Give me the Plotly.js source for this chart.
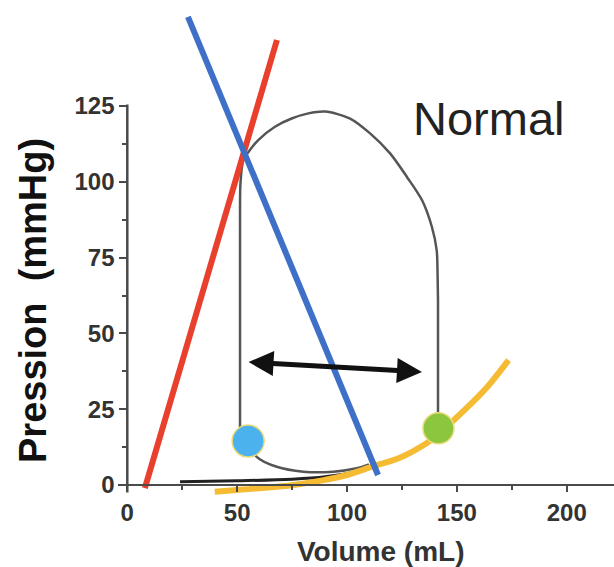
<!DOCTYPE html>
<html>
<head>
<meta charset="utf-8">
<script src="https://cdn.plot.ly/plotly-3.0.1.min.js"></script>
<style>
html,body{margin:0;padding:0;background:#fff;}
#chart{width:614px;height:567px;}
</style>
</head>
<body>
<div id="chart"></div>
<script>
// ---- Data ----
const xTickVals = [0, 50, 100, 150, 200];
const xMinorVals = [25, 75, 125, 175];
const yTickVals = [0, 25, 50, 75, 100, 125];
const yMinorVals = [12.5, 37.5, 62.5, 87.5, 112.5];

// ESPVR (red) and the blue line
const redVolume = [8.0, 68.1];
const redPressure = [-1.0, 146.8];
const blueVolume = [27.6, 114.1];
const bluePressure = [154.4, 3.3];

// Pressure-volume loop (grey): upper part (contraction, ejection, relaxation)
const loopVolume = [51.3, 51.3, 51.5, 52.8, 55.8, 59.6, 67.2, 74.8, 82.4, 90.0, 101.4, 110.5, 119.6, 127.2, 134.1, 138.6, 140.8, 141.2, 141.4, 141.4];
const loopPressure = [14.5, 90, 99.5, 107.2, 110.5, 113.8, 118.2, 120.9, 122.6, 123.2, 120.9, 116.0, 109.4, 101.7, 94.0, 85.2, 77.5, 69.8, 61.0, 18.7];
// loop bottom (filling)
const fillVolume = [55.0, 58.9, 68.0, 80.1, 93.8, 104.4, 110.0];
const fillPressure = [14.5, 9.3, 6.0, 4.4, 4.4, 5.5, 6.8];

// black passive filling curve
const baseVolume = [24, 50, 75, 90, 105, 115];
const basePressure = [1.1, 1.4, 1.9, 2.7, 4.5, 6.5];

// EDPVR (yellow)
const yellowVolume = [39.8, 60, 75.6, 90, 100, 112, 124, 136, 142, 148, 156, 164, 173.5];
const yellowPressure = [-2.2, -1.1, 0, 1.7, 3.3, 6.2, 9.0, 13.7, 17, 21, 26.5, 32.5, 41.2];

// points: end-systolic (blue) and end-diastolic (green)
const esPoint = [55.0, 14.5];
const edPoint = [141.6, 18.7];

// stroke volume arrow endpoints [volume, pressure]
const arrowLeft = [54.5, 40.6];
const arrowRight = [134.1, 37.3];

const labelText = 'Normal';
const labelPos = [164.2, 121];

// ---- Layout geometry ----
const W = 614, H = 567;
const mL = 118, mB = 70;
const xRange = [-4.23, 221.5];
const yRange = [-3.96, 160];
const plotW = W - mL, plotH = H - mB;

const FONT = 'Liberation Sans, Arial, Helvetica, sans-serif';
const axisColor = '#4a4a4a';

const traces = [
  {x: baseVolume, y: basePressure, mode: 'lines', line: {color: '#222', width: 3, shape: 'spline'}, hoverinfo: 'skip'},
  {x: loopVolume, y: loopPressure, mode: 'lines', line: {color: '#555', width: 2.5, shape: 'spline', smoothing: 0.8}, hoverinfo: 'skip'},
  {x: fillVolume, y: fillPressure, mode: 'lines', line: {color: '#555', width: 2.5, shape: 'spline'}, hoverinfo: 'skip'},
  {x: yellowVolume, y: yellowPressure, mode: 'lines', line: {color: '#f5bb32', width: 6, shape: 'spline'}, hoverinfo: 'skip'},
  {x: redVolume, y: redPressure, mode: 'lines', line: {color: '#e8402c', width: 6}, hoverinfo: 'skip'},
  {x: blueVolume, y: bluePressure, mode: 'lines', line: {color: '#3e70c8', width: 6}, hoverinfo: 'skip'},
  {x: [esPoint[0]], y: [esPoint[1]], mode: 'markers', marker: {size: 32, color: '#4cb2ee', line: {color: '#eadb7a', width: 1.5}}, hoverinfo: 'skip'},
  {x: [edPoint[0]], y: [edPoint[1]], mode: 'markers', marker: {size: 31, color: '#8cc63f', line: {color: '#eadb7a', width: 1.5}}, hoverinfo: 'skip'}
];

const layout = {
  width: W, height: H,
  margin: {l: mL, r: 0, t: 0, b: mB, pad: 0},
  paper_bgcolor: '#fff', plot_bgcolor: '#fff',
  showlegend: false,
  xaxis: {
    range: xRange, anchor: 'free', position: (0 - yRange[0]) / (yRange[1] - yRange[0]),
    showgrid: false, zeroline: false, showline: true, linecolor: axisColor, linewidth: 2.5,
    ticks: 'outside', ticklen: 6, tickwidth: 2, tickcolor: axisColor,
    tickmode: 'array', tickvals: xTickVals,
    minor: {tickmode: 'array', tickvals: xMinorVals, ticks: 'outside', ticklen: 4, tickwidth: 2, tickcolor: axisColor},
    tickfont: {family: FONT, size: 24, color: '#333', weight: 'bold'},
    fixedrange: true, automargin: false
  },
  yaxis: {
    range: yRange, anchor: 'free', position: (0 - xRange[0]) / (xRange[1] - xRange[0]),
    showgrid: false, zeroline: false, showline: false,
    ticks: 'outside', ticklen: 8, tickwidth: 2, tickcolor: axisColor,
    tickmode: 'array', tickvals: yTickVals,
    minor: {tickmode: 'array', tickvals: yMinorVals, ticks: 'outside', ticklen: 5, tickwidth: 2, tickcolor: axisColor},
    tickfont: {family: FONT, size: 24, color: '#333', weight: 'bold'},
    fixedrange: true, automargin: false
  },
  shapes: [
    {type: 'line', xref: 'x', yref: 'y', x0: 0, x1: 0, y0: -2.5, y1: yTickVals[yTickVals.length - 1] + 0.5,
     line: {color: axisColor, width: 2.5}, layer: 'below'}
  ],
  annotations: [
    {xref: 'x', yref: 'y', axref: 'x', ayref: 'y',
     x: arrowRight[0], y: arrowRight[1], ax: arrowLeft[0], ay: arrowLeft[1],
     text: '', showarrow: true, arrowhead: 2, startarrowhead: 2, arrowside: 'end+start',
     arrowwidth: 5, arrowsize: 1, startarrowsize: 1, arrowcolor: '#111', standoff: 0, startstandoff: 0},
    {xref: 'x', yref: 'y', x: labelPos[0], y: labelPos[1], text: labelText, showarrow: false,
     xanchor: 'center', yanchor: 'middle', font: {family: FONT, size: 47, color: '#222'}},
    {xref: 'paper', yref: 'paper', x: (380 - mL) / plotW, y: (plotH - 551) / plotH, text: 'Volume (mL)', showarrow: false,
     xanchor: 'center', yanchor: 'middle', font: {family: FONT, size: 28, color: '#333', weight: 'bold'}},
    {xref: 'paper', yref: 'paper', x: (33 - mL) / plotW, y: (plotH - 301) / plotH, text: 'Pression\u00a0\u00a0(mmHg)', showarrow: false,
     textangle: -90, xanchor: 'center', yanchor: 'middle', font: {family: FONT, size: 38, color: '#111', weight: 'bold'}}
  ]
};

Plotly.newPlot('chart', traces, layout, {staticPlot: true, displayModeBar: false});
</script>
</body>
</html>
